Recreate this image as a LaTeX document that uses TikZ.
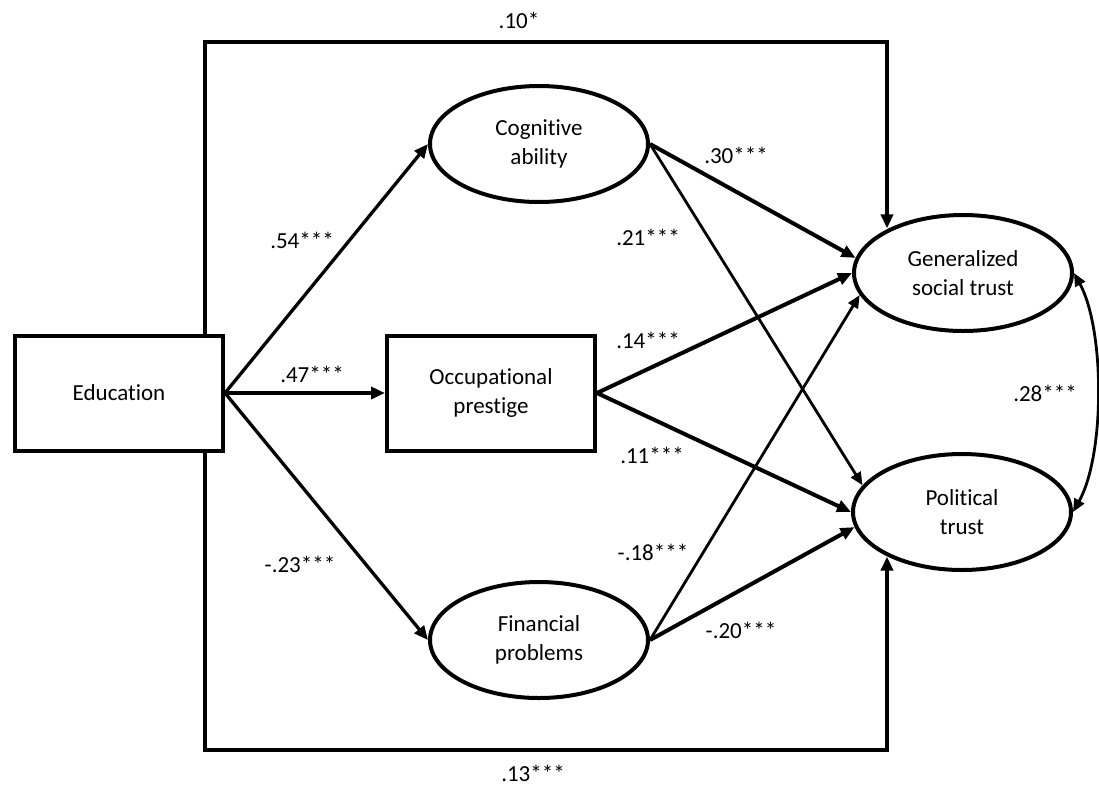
\documentclass[tikz,border=0pt]{standalone}
\usepackage{fontspec}
\setmainfont{Carlito}[Ligatures=NoCommon]
\usetikzlibrary{arrows.meta,shapes.geometric}
\begin{document}
\begin{tikzpicture}[x=1pt,y=-1pt,
  txt/.style={font=\fontsize{23}{29}\selectfont, align=center, inner sep=0pt},
  boxnode/.style={txt, draw, line width=4pt, minimum width=208pt, minimum height=115pt},
  ellnode/.style={txt, draw, ellipse, line width=4pt, minimum width=218pt, minimum height=116pt},
  lab/.style={txt},
  arr/.style={line width=4pt, -{Triangle[length=14pt,width=12pt]}},
  arrm/.style={line width=3.3pt, -{Triangle[length=14pt,width=12pt]}},
  arrt/.style={line width=2.8pt, -{Triangle[length=13pt,width=11pt]}},
  darr/.style={line width=2.8pt, {Triangle[length=13pt,width=11pt]}-{Triangle[length=13pt,width=11pt]}}
]
\useasboundingbox (0,0) rectangle (1099,785);
\fill[white] (0,0) rectangle (1099,785);

\node[boxnode] (edu) at (119,393) {Education};
\node[boxnode] (occ) at (491,393) {Occupational\\prestige};
\node[ellnode] (cog) at (539,144) {Cognitive\\ability};
\node[ellnode] (fin) at (539,640) {Financial\\problems};
\node[ellnode] (gst) at (963,273) {Generalized\\social trust};
\node[ellnode] (pt) at (962,512) {Political\\trust};

\coordinate (tl) at (205,42);
\coordinate (tr) at (887,42);
\coordinate (bl) at (205,750);
\coordinate (br) at (887,750);

\draw[arr] (tl |- edu.north) -- (tl) -- (tr) -- (tr |- gst.149);
\draw[arr] (bl |- edu.south) -- (bl) -- (br) -- (br |- pt.211);

\draw[arrm] (edu.east) -- (cog.west);
\draw[arr] (edu.east) -- (occ.west);
\draw[arrm] (edu.east) -- (fin.west);

\draw[arr] (cog.east) -- (gst.172);
\draw[arrt] (cog.east) -- (pt.165);
\draw[arr] (occ.east) -- (gst.west);
\draw[arr] (occ.east) -- (pt.west);
\draw[arrt] (fin.east) -- (gst.192);
\draw[arr] (fin.east) -- (pt.188);

\draw[darr] (gst.east) .. controls (1105,330) and (1105,455) .. (pt.east);

\node[lab] (l10) at (519,20) {.10*};
\node[lab] (l13) at (533,773) {.13***};
\node[lab] (l54) at (302,240) {.54***};
\node[lab] (l47) at (312,374) {.47***};
\node[lab] (l23) at (300,564) {-.23***};
\node[lab] (l30) at (736,155) {.30***};
\node[lab] (l21) at (648,237) {.21***};
\node[lab] (l14) at (648,340) {.14***};
\node[lab] (l11) at (652,455) {.11***};
\node[lab] (l18) at (653,552) {-.18***};
\node[lab] (l20) at (741,630) {-.20***};
\node[lab] (l28) at (1045,393) {.28***};
\end{tikzpicture}
\end{document}
